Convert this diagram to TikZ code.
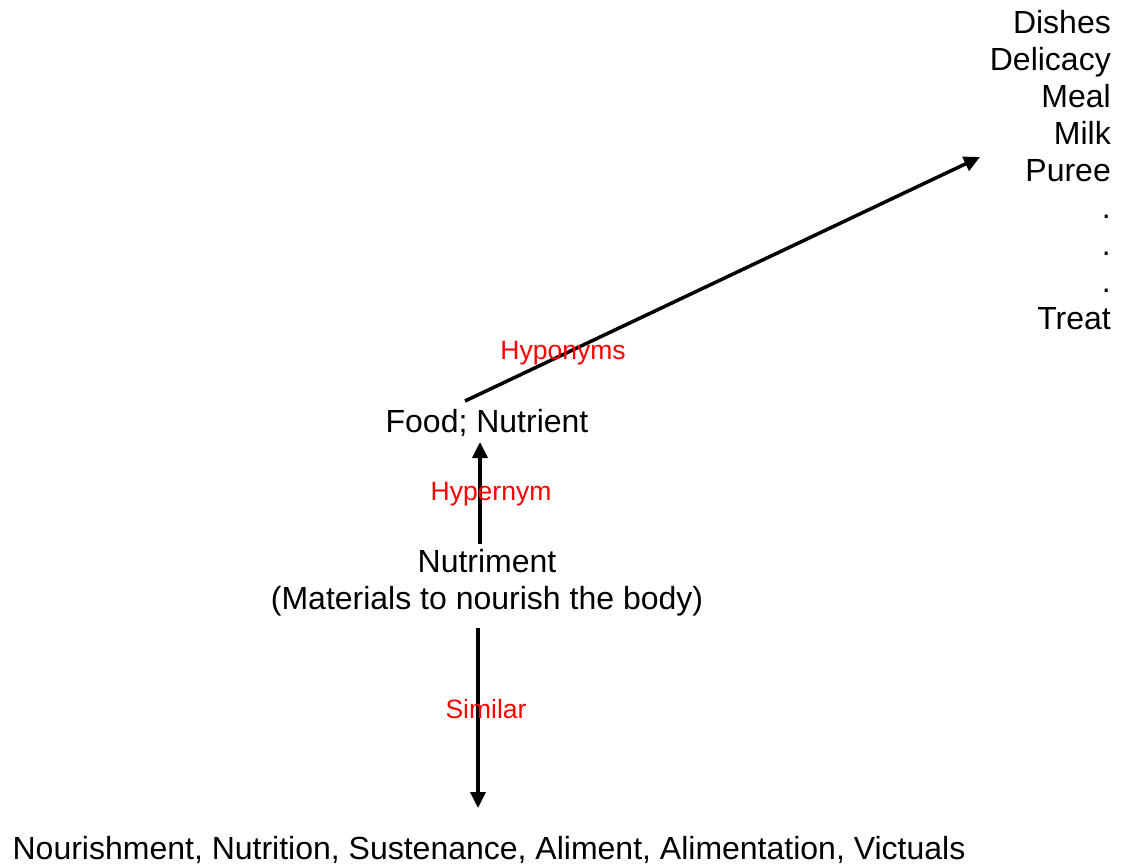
\documentclass[tikz,border=0pt]{standalone}
\usepackage{fontspec}
\setmainfont{Liberation Sans}
\usetikzlibrary{arrows.meta}
\begin{document}
\begin{tikzpicture}[x=1pt,y=-1pt,
  term/.style={font=\fontsize{32}{37}\selectfont, inner sep=0pt, text=black},
  rel/.style={font=\fontsize{26.5}{30}\selectfont, inner sep=0pt, text=red},
  link/.style={line width=3.5pt, -{Triangle[length=16pt,width=15pt]}}]
\useasboundingbox (0,0) rectangle (1123,867);
\node[term, align=right, anchor=north east] (hypo) at (1111,10) {Dishes\\Delicacy\\Meal\\Milk\\Puree\\.\\.\\.\\Treat};
\node[term] (food) at (487,423) {Food; Nutrient};
\node[term, align=center] (nutri) at (487,583) {Nutriment\\(Materials to nourish the body)};
\node[term] (syn) at (489,850) {Nourishment, Nutrition, Sustenance, Aliment, Alimentation, Victuals};
\coordinate (a1) at (465,401);
\coordinate (a2) at (980,157);
\draw[link] (a1) -- (a2);
\coordinate (b1) at (480,544);
\coordinate (b2) at (480,442);
\draw[link] (b1) -- (b2);
\coordinate (c1) at (478,628);
\coordinate (c2) at (478,808);
\draw[link] (c1) -- (c2);
\node[rel] (l1) at (563,353) {Hyponyms};
\node[rel] (l2) at (491,494) {Hypernym};
\node[rel] (l3) at (486,709) {Similar};
\end{tikzpicture}
\end{document}
